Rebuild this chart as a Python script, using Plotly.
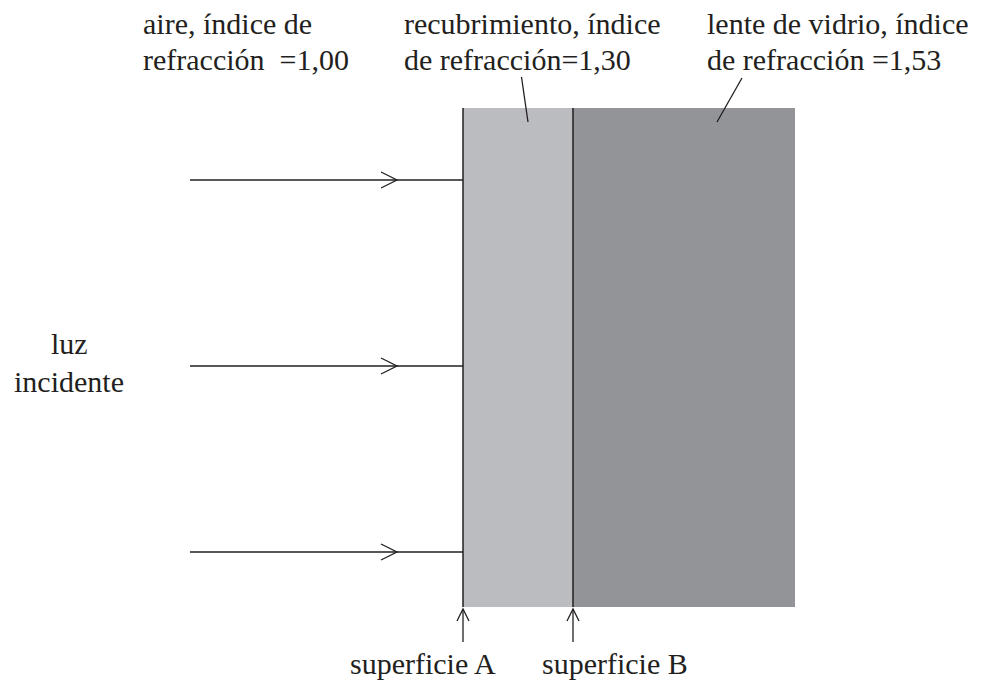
import plotly.graph_objects as go

# Data
media = ["aire", "recubrimiento", "lente de vidrio"]
indices = ["1,00", "1,30", "1,53"]
label_line1 = ["aire, índice de", "recubrimiento, índice", "lente de vidrio, índice"]
label_line2 = ["refracción\u00a0 =1,00", "de refracción=1,30", "de refracción =1,53"]
label_x = [141, 402, 705]
ray_y = [180, 366, 552]
surface_names = ["superficie A", "superficie B"]
surface_x = [463, 573]
glass_right = 795
slab_top, slab_bottom = 108, 607
ray_start = 190
arrow_tip_x = 397
coat_color = "#BBBCC0"
glass_color = "#939498"
INK = "#231F20"
FONT = "Liberation Serif"
FS = 30

# page body has an 8px margin: shift the coordinate frame so pixel coords match the window
OFF = 8
W, H = 982, 681

shapes = []
shapes.append(dict(type="rect", x0=surface_x[0], x1=surface_x[1], y0=slab_top, y1=slab_bottom,
                   fillcolor=coat_color, line=dict(width=0), layer="below"))
shapes.append(dict(type="rect", x0=surface_x[1], x1=glass_right, y0=slab_top, y1=slab_bottom,
                   fillcolor=glass_color, line=dict(width=0), layer="below"))
for sx in surface_x:
    shapes.append(dict(type="line", x0=sx, x1=sx, y0=slab_top, y1=slab_bottom,
                       line=dict(color=INK, width=1.5)))
for ry in ray_y:
    shapes.append(dict(type="line", x0=ray_start, x1=surface_x[0], y0=ry, y1=ry,
                       line=dict(color=INK, width=1.3)))
    shapes.append(dict(type="path",
                       path=f"M {arrow_tip_x-16},{ry-8} L {arrow_tip_x},{ry} L {arrow_tip_x-16},{ry+8}",
                       line=dict(color=INK, width=1.3)))
for sx in surface_x:
    shapes.append(dict(type="line", x0=sx, x1=sx, y0=642, y1=609,
                       line=dict(color=INK, width=1.3)))
    shapes.append(dict(type="path",
                       path=f"M {sx-6},{621} L {sx},{609} L {sx+6},{621}",
                       line=dict(color=INK, width=1.3)))
shapes.append(dict(type="line", x0=521.5, y0=77, x1=528, y1=122, line=dict(color=INK, width=1.3)))
shapes.append(dict(type="line", x0=742, y0=78, x1=717, y1=122, line=dict(color=INK, width=1.3)))

annotations = []
for lx, l1, l2 in zip(label_x, label_line1, label_line2):
    annotations.append(dict(x=lx, y=23, text=l1, showarrow=False, xanchor="left", yanchor="middle"))
    annotations.append(dict(x=lx, y=59, text=l2, showarrow=False, xanchor="left", yanchor="middle"))
annotations.append(dict(x=69, y=343, text="luz", showarrow=False, xanchor="center", yanchor="middle"))
annotations.append(dict(x=69, y=381, text="incidente", showarrow=False, xanchor="center", yanchor="middle"))
surface_label_x = [422.5, 615]
for sx, name in zip(surface_label_x, surface_names):
    annotations.append(dict(x=sx, y=663.5, text=name, showarrow=False, xanchor="center", yanchor="middle"))

fig = go.Figure()
fig.update_layout(
    width=W - OFF, height=H - OFF,
    margin=dict(l=0, r=0, t=0, b=0),
    paper_bgcolor="white", plot_bgcolor="white",
    xaxis=dict(range=[OFF, W], visible=False, fixedrange=True),
    yaxis=dict(range=[H, OFF], visible=False, fixedrange=True),
    shapes=shapes,
    annotations=annotations,
    font=dict(family=FONT, size=FS, color=INK),
    showlegend=False,
)
fig.write_html("out.html", config={"displayModeBar": False})
